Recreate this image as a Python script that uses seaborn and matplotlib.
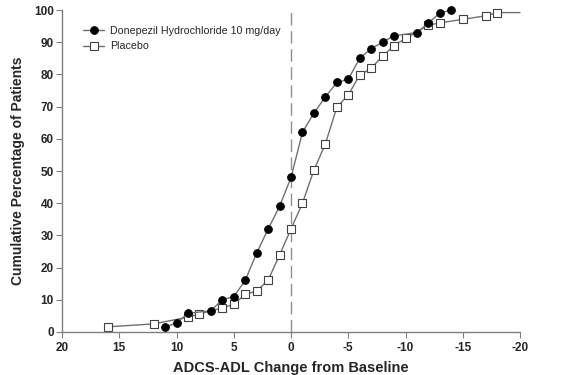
import matplotlib
matplotlib.use("Agg")
import matplotlib.pyplot as plt
import seaborn as sns
import pandas as pd

sns.set_style("white")
plt.rcParams['font.family'] = ['Liberation Sans', 'DejaVu Sans']
plt.rcParams['axes.unicode_minus'] = False

# Donepezil 10 mg/day (filled circles)
done_x = [11, 10, 9, 7, 6, 5, 4, 3, 2, 1, 0, -1, -2, -3, -4, -5, -6, -7, -8, -9, -11, -12, -13, -14]
done_y = [1.5, 2.8, 5.8, 6.6, 10, 11, 16, 24.5, 32, 39, 48, 62, 68, 73, 77.5, 78.5, 85, 88, 90, 92, 93, 96, 99, 100]

# Placebo (open squares); last point is the line end at -20
plac_x = [16, 12, 9, 8, 6, 5, 4, 3, 2, 1, 0, -1, -2, -3, -4, -5, -6, -7, -8, -9, -10, -12, -13, -15, -17, -18, -20]
plac_y = [1.6, 2.5, 4.6, 5.6, 7.5, 8.6, 11.7, 12.7, 16.1, 23.9, 32, 40, 50.3, 58.4, 69.8, 73.6, 79.8, 81.9, 85.7, 88.9, 91.2, 95.3, 96, 97.1, 98.2, 99.2, 99.2]

done = pd.DataFrame({"x": done_x, "y": done_y})
plac = pd.DataFrame({"x": plac_x, "y": plac_y})

fig = plt.figure(figsize=(5.72, 3.75), dpi=100)
ax = fig.add_axes([0.1084, 0.1147, 0.8007, 0.8586])

line_col = "#707070"
ax.axvline(0, color="#909090", lw=1.0, ls=(0, (9, 4)), zorder=1)

sns.lineplot(data=plac, x="x", y="y", ax=ax, color=line_col, lw=1.0,
             marker="s", markersize=5.3, markerfacecolor="white",
             markeredgecolor="#404040", markeredgewidth=0.8,
             markevery=list(range(len(plac_x) - 1)), sort=False,
             label="Placebo", zorder=2, clip_on=False)
sns.lineplot(data=done, x="x", y="y", ax=ax, color=line_col, lw=1.0,
             marker="o", markersize=5.5, markerfacecolor="black",
             markeredgecolor="black", sort=False,
             label="Donepezil Hydrochloride 10 mg/day", zorder=3, clip_on=False)

ax.set_xlim(20, -20)
ax.set_ylim(0, 100)
ax.set_xticks(range(20, -21, -5))
ax.set_yticks(range(0, 101, 10))

for s in ["top", "right"]:
    ax.spines[s].set_visible(False)
for s in ["left", "bottom"]:
    ax.spines[s].set_color("#808080")
    ax.spines[s].set_linewidth(1.0)

ax.tick_params(axis="both", direction="out", length=4, width=0.8,
               color="#808080", labelsize=8.5, pad=2,
               bottom=True, left=True)
ax.tick_params(axis="x", pad=3)
for lab in ax.get_xticklabels() + ax.get_yticklabels():
    lab.set_fontweight("bold")

ax.set_xlabel("ADCS-ADL Change from Baseline", fontsize=10.5, fontweight="bold", labelpad=5)
ax.set_ylabel("Cumulative Percentage of Patients", fontsize=10, fontweight="bold", labelpad=6)

handles, labels = ax.get_legend_handles_labels()
ax.legend(handles[::-1], labels[::-1], loc="upper left", frameon=False,
          fontsize=7.7, bbox_to_anchor=(0.025, 0.98), handlelength=2.0,
          handletextpad=0.5, labelspacing=0.5)

fig.savefig("out.png", dpi=100)
